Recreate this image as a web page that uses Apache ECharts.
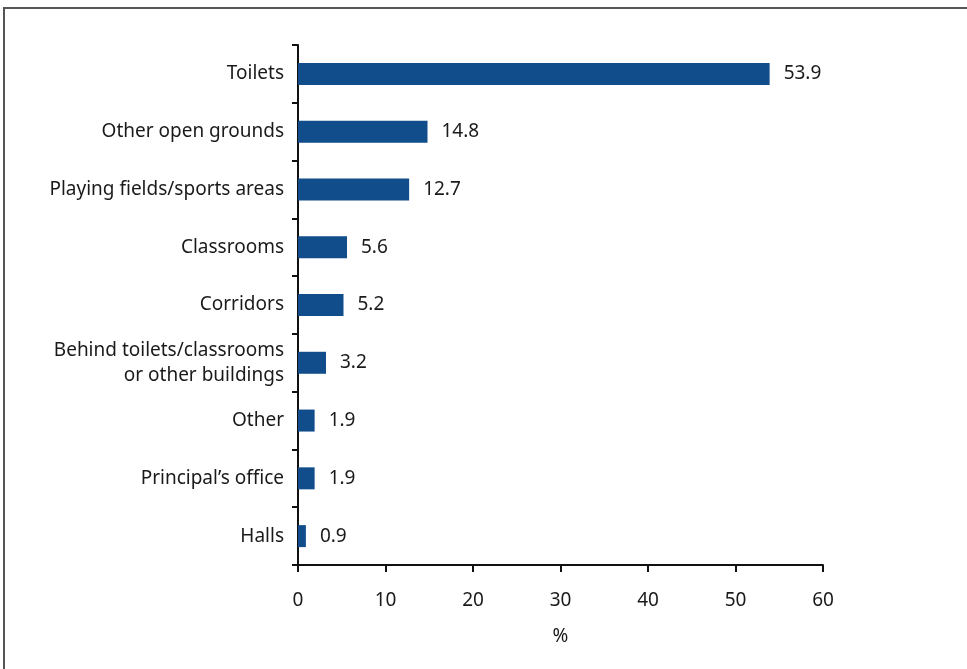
<!DOCTYPE html>
<html>
<head>
<meta charset="utf-8">
<script src="https://cdn.jsdelivr.net/npm/echarts@6/dist/echarts.min.js"></script>
<style>
  html, body { margin: 0; padding: 0; background: #fff; }
  #chart { width: 967px; height: 669px; }
</style>
</head>
<body>
<div id="chart"></div>
<script>
// Locations where incidents were reported (% of responses)
const locations = [
  'Toilets',
  'Other open grounds',
  'Playing fields/sports areas',
  'Classrooms',
  'Corridors',
  'Behind toilets/classrooms\nor other buildings',
  'Other',
  'Principal\u2019s office',
  'Halls'
];
const percentages = [53.9, 14.8, 12.7, 5.6, 5.2, 3.2, 1.9, 1.9, 0.9];
const xTicks = [0, 10, 20, 30, 40, 50, 60];

const FONT = '"Noto Sans", "Open Sans", sans-serif';
const TEXT = '#1a1a1a';
const SIZE = 19;

const chart = echarts.init(document.getElementById('chart'), null, { renderer: 'canvas' });

chart.setOption({
  animation: false,
  backgroundColor: '#ffffff',
  grid: { left: 298, right: 144, top: 45, bottom: 104, containLabel: false },
  xAxis: {
    type: 'value',
    min: xTicks[0],
    max: xTicks[xTicks.length - 1],
    interval: xTicks[1] - xTicks[0],
    name: '%',
    nameLocation: 'middle',
    nameGap: 62,
    nameTextStyle: { fontFamily: FONT, fontSize: SIZE, color: TEXT },
    axisLine: { show: true, lineStyle: { color: '#111', width: 2 } },
    axisTick: { show: true, length: 7, lineStyle: { color: '#111', width: 2 } },
    axisLabel: { margin: 26, fontFamily: FONT, fontSize: SIZE, color: TEXT },
    splitLine: { show: false }
  },
  yAxis: {
    type: 'category',
    inverse: true,
    data: locations,
    axisLine: { show: true, lineStyle: { color: '#111', width: 2 } },
    axisTick: { show: true, length: 6, alignWithLabel: false, lineStyle: { color: '#111', width: 2 } },
    axisLabel: {
      margin: 14,
      fontFamily: FONT,
      fontSize: SIZE,
      color: TEXT,
      lineHeight: 25,
      align: 'right'
    },
    splitLine: { show: false }
  },
  series: [{
    type: 'bar',
    data: percentages,
    barWidth: 22,
    itemStyle: { color: '#114d8a' },
    label: {
      show: true,
      position: 'right',
      distance: 14,
      fontFamily: FONT,
      fontSize: SIZE,
      color: TEXT,
      formatter: p => p.value.toFixed(1)
    }
  }],
  graphic: [
    // frame lines along top and left edges
    { type: 'line', shape: { x1: 3.5, y1: 8, x2: 967, y2: 8 }, style: { stroke: '#555', lineWidth: 2 } },
    { type: 'line', shape: { x1: 4, y1: 7, x2: 4, y2: 669 }, style: { stroke: '#555', lineWidth: 2 } }
  ]
});
</script>
</body>
</html>
